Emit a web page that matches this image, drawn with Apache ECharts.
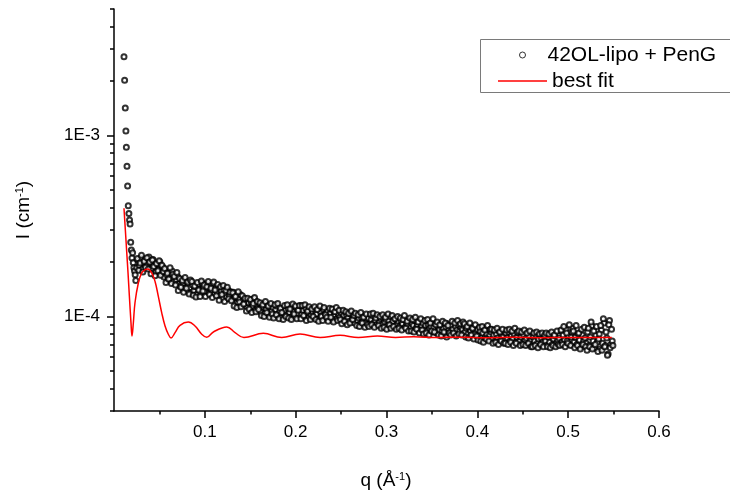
<!DOCTYPE html>
<html><head><meta charset="utf-8">
<script src="https://cdn.jsdelivr.net/npm/echarts@6/dist/echarts.min.js"></script>
<style>html,body{margin:0;padding:0;background:#fff}#c{width:730px;height:497px}</style>
</head><body><div id="c"></div>
<script>
const FONT = '"Liberation Sans", Arial, Helvetica, sans-serif';

// intensities in units of 1e-5 cm^-1
const seriesNames = ['42OL-lipo + PenG', 'best fit'];
// steep low-q data points
const qLow = [0.0110,0.0117,0.0124,0.0131,0.0136,0.0143,0.0150,0.0157,0.0164,0.0171,0.0177,0.0184,0.0191,0.0198,0.0205,0.0212,0.0219,0.0226,0.0233,0.0240];
const iLow = [272,202,142,106,86,67.6,52.6,40.9,37.1,34.1,32.4,25.7,23.3,21.0,22.5,19.8,18.6,17.8,17.0,15.8];
// measured points on the regular q grid (start 0.025, step 0.0015)
const qStart = 0.025, qStep = 0.0015;
const iMain = [
18.6,20.4,19.1,21.0,18.2,19.8,20.7,18.9,19.5,21.3,
19.9,18.4,20.6,19.0,17.6,19.4,18.1,20.0,17.4,18.8,
16.5,18.1,17.0,15.9,17.6,16.2,17.8,15.6,16.8,16.0,
16.6,15.1,14.7,16.0,15.3,14.2,15.7,13.8,14.9,14.4,
13.5,14.9,13.9,14.6,13.2,15.0,14.1,13.6,15.3,14.4,
13.7,15.1,14.5,13.4,14.8,13.9,15.2,13.3,14.2,13.6,
14.3,13.0,13.8,12.6,14.1,13.4,12.8,14.0,13.1,13.7,
12.4,13.6,12.7,13.1,11.9,12.5,13.2,11.6,12.2,11.8,
12.3,11.2,11.9,10.9,12.0,11.4,12.5,10.8,11.6,11.1,
11.8,10.6,11.3,11.7,10.4,11.0,11.5,10.2,11.2,10.7,
11.2,10.1,10.9,11.4,10.3,10.7,9.9,11.0,10.4,10.8,
10.2,11.1,10.5,9.9,11.3,10.6,10.0,11.2,10.4,10.9,
11.4,10.3,10.8,10.0,11.1,10.5,9.8,10.9,10.2,10.6,
9.9,10.8,10.3,11.0,9.7,10.5,10.1,10.9,9.8,10.4,
10.7,9.8,10.4,10.9,9.6,10.2,10.6,9.7,10.3,9.9,
10.5,9.6,10.1,9.3,10.2,9.8,9.4,10.3,9.5,9.9,
9.2,10.1,9.5,9.8,9.1,9.9,9.4,10.0,9.3,9.7,
9.8,9.1,9.6,10.1,9.2,9.5,9.0,9.9,9.3,9.7,
9.0,9.8,9.3,9.6,8.9,9.5,10.0,9.1,9.4,8.8,
9.7,9.0,9.4,8.8,9.5,9.1,9.6,8.7,9.2,9.0,
9.4,8.7,9.1,8.9,9.5,8.6,9.0,9.3,8.5,8.9,
9.2,8.5,8.9,8.3,9.0,8.6,8.8,8.2,8.7,9.1,
8.1,8.8,8.4,9.0,8.3,8.6,8.0,8.7,9.1,8.4,
8.2,8.9,8.5,8.0,8.8,8.4,9.0,8.3,8.7,8.5,
8.9,8.2,8.6,8.0,8.7,8.3,7.9,8.5,8.1,8.4,
8.5,7.8,8.3,7.6,8.1,8.6,7.7,8.0,7.5,7.9,
8.2,7.5,7.9,7.3,8.0,7.6,8.3,7.4,7.8,7.7,
7.4,8.1,7.6,8.2,7.3,7.8,7.5,8.0,7.2,7.7,
8.1,7.3,7.7,7.1,7.9,7.4,7.6,7.0,7.8,7.3,
7.0,7.7,7.3,7.9,7.1,7.5,6.9,7.6,7.2,7.8,
7.3,6.9,7.7,7.2,7.9,7.0,7.5,7.8,7.1,7.4,
7.6,8.3,7.2,7.9,7.4,8.5,7.3,7.8,7.0,7.7,
8.6,7.2,7.7,7.0,8.0,7.4,6.8,7.9,7.3,7.6,
7.1,8.2,6.9,7.7,8.9,7.3,6.7,7.9,7.2,7.5,
6.6,8.4,7.1,9.2,6.9,7.6,6.2,9.5,7.0,7.3
];
// interleaved points, half a step later (start 0.02575, step 0.0015)
const qStart2 = 0.02575;
const iMain2 = [
20.9,18.0,19.7,21.8,17.6,20.2,18.7,21.1,18.3,20.0,
17.2,20.5,18.9,16.8,19.6,17.9,20.3,16.9,19.2,17.7,
18.4,15.4,17.3,16.1,18.6,15.2,17.1,16.6,14.9,17.5,
13.9,16.2,14.5,15.8,13.6,16.4,14.3,15.5,13.3,15.9,
15.6,13.1,14.7,12.8,15.4,14.0,12.9,15.7,13.8,14.9,
12.9,14.6,15.6,13.2,14.3,12.7,15.5,14.0,13.0,15.0,
12.3,14.6,13.2,14.8,12.1,13.9,14.5,12.5,13.6,12.2,
13.5,11.4,12.9,11.2,13.7,12.0,11.3,13.0,11.7,12.6,
10.7,12.6,11.0,12.4,10.5,11.8,12.7,10.6,12.1,10.9,
11.9,10.1,11.6,10.0,12.1,10.5,11.4,9.9,11.8,10.3,
9.8,11.6,10.2,11.8,9.7,11.1,10.5,9.6,11.5,10.0,
11.6,9.8,11.0,9.6,11.7,10.3,11.4,9.7,10.8,11.5,
9.7,11.5,10.1,11.6,9.5,10.7,11.3,9.6,11.0,10.0,
11.3,9.6,10.9,9.4,11.4,10.0,9.5,11.2,10.2,9.9,
9.4,11.1,9.9,11.0,9.3,10.6,11.2,9.5,10.8,9.6,
9.1,10.8,9.4,10.6,9.0,10.4,9.2,10.7,9.6,10.1,
10.4,8.9,10.2,8.8,10.5,9.2,9.9,8.7,10.3,9.0,
8.8,10.3,9.0,10.4,8.7,9.8,10.2,8.9,10.0,8.6,
10.2,8.7,9.9,8.5,10.3,9.0,8.6,10.1,8.8,9.7,
8.5,10.0,8.6,9.8,8.4,9.6,10.1,8.6,9.4,8.3,
9.8,8.3,9.6,8.2,9.9,8.5,9.3,8.1,9.7,8.4,
8.0,9.5,8.1,9.6,7.9,9.2,8.3,9.7,8.2,9.0,
9.3,7.9,9.0,7.8,9.4,8.2,9.2,7.7,8.9,8.1,
7.9,9.4,8.1,9.2,7.8,9.5,8.0,9.1,7.9,9.3,
9.1,7.7,8.8,7.6,9.2,7.9,8.6,7.5,9.0,7.8,
7.4,8.7,7.3,8.8,7.2,8.4,7.5,8.9,7.3,8.5,
8.5,7.1,8.4,7.2,8.6,7.0,8.2,7.3,8.5,7.1,
7.1,8.4,7.0,8.5,7.2,8.3,6.9,8.6,7.1,8.2,
8.3,6.9,8.2,7.0,8.4,6.9,8.1,7.1,8.3,6.8,
6.8,8.1,6.9,8.2,6.7,8.0,7.0,8.1,6.8,7.9,
8.1,6.8,8.0,6.7,8.2,6.9,7.9,6.8,8.3,7.0,
6.9,8.4,7.0,8.8,6.8,8.1,7.1,9.0,6.9,8.2,
8.3,6.7,8.9,6.9,8.1,6.6,8.5,7.0,8.7,6.8,
6.5,8.6,6.8,9.3,6.6,8.3,7.0,8.8,6.4,8.0,
8.9,6.5,9.7,6.8,8.2,6.1,9.0,6.7,8.5,6.9
];
// best fit curve
const qFit = [0.0110,0.0125,0.0140,0.0155,0.0169,0.0187,0.0198,0.0213,0.0231,0.0268,0.0305,0.0341,0.0371,0.0415,0.0452,0.0488,0.0525,0.0562,0.0598,0.0628,0.0672,0.0727,0.0818,0.0892,0.0966,0.1021,0.1094,0.1241,0.1333,0.1430,0.1644,0.1847,0.2048,0.2269,0.2489,0.2690,0.2900,0.3100,0.3300,0.3550,0.3800,0.4100,0.4400,0.4700,0.5000,0.5250,0.5480];
const iFit = [39.6,30.0,22.7,17.2,13.0,9.23,7.8,9.2,11.9,15.3,17.4,18.1,18.3,17.4,15.6,12.9,10.5,8.85,7.97,7.6,8.13,8.92,9.3,8.85,7.97,7.66,8.2,8.75,8.13,7.64,8.06,7.64,7.99,7.64,7.86,7.64,7.78,7.65,7.72,7.64,7.68,7.63,7.66,7.63,7.65,7.64,7.64];

const xMajor = [0.1,0.2,0.3,0.4,0.5,0.6];
const xMinor = [0.05,0.15,0.25,0.35,0.45,0.55];
const yMajor = [1e-4,1e-3];
const yMinor = [3e-5,4e-5,5e-5,6e-5,7e-5,8e-5,9e-5,2e-4,3e-4,4e-4,5e-4,6e-4,7e-4,8e-4,9e-4,2e-3,3e-3,4e-3,5e-3];

const U = 1e-5;
const scatterData = qLow.map((q,i)=>[q, iLow[i]*U])
  .concat(iMain.map((v,i)=>[+(qStart+i*qStep).toFixed(5), v*U]))
  .concat(iMain2.map((v,i)=>[+(qStart2+i*qStep).toFixed(5), v*U]));
const fitData = qFit.map((q,i)=>[q, iFit[i]*U]);

const chart = echarts.init(document.getElementById('c'), null, {renderer:'canvas'});
const axisCol = '#000';
const labelStyle = {fontFamily: FONT, fontSize: 17, color: '#000'};
chart.setOption({
  animation: false,
  backgroundColor: '#fff',
  grid: {left: 114, right: 71, top: 9, bottom: 86, containLabel: false},
  xAxis: [{
    type: 'value', min: 0, max: 0.6, interval: 0.1,
    axisLine: {show: true, onZero: false, lineStyle: {color: axisCol, width: 1.5}},
    axisTick: {show: true, length: 7, customValues: xMajor, lineStyle: {color: axisCol, width: 1.5}},
    axisLabel: Object.assign({customValues: xMajor, margin: 13, formatter: v => v.toFixed(1)}, labelStyle),
    splitLine: {show: false}
  },{
    type: 'value', min: 0, max: 0.6, position: 'bottom',
    axisLine: {show: false, onZero: false},
    axisTick: {show: true, length: 3.5, customValues: xMinor, lineStyle: {color: axisCol, width: 1.5}},
    axisLabel: {show: false},
    splitLine: {show: false}
  }],
  yAxis: [{
    type: 'log', logBase: 10, min: 3e-5, max: 5e-3,
    axisLine: {show: true, onZero: false, lineStyle: {color: axisCol, width: 1.5}},
    axisTick: {show: true, length: 7, customValues: yMajor, lineStyle: {color: axisCol, width: 1.5}},
    axisLabel: Object.assign({customValues: yMajor, margin: 14, formatter: v => '1E' + Math.round(Math.log10(v))}, labelStyle),
    splitLine: {show: false}
  },{
    type: 'log', logBase: 10, min: 3e-5, max: 5e-3, position: 'left',
    axisLine: {show: false, onZero: false},
    axisTick: {show: true, length: 4, customValues: yMinor, lineStyle: {color: axisCol, width: 1.5}},
    axisLabel: {show: false},
    splitLine: {show: false}
  }],
  legend: [{
    data: [{name: seriesNames[0], icon: 'circle', itemStyle: {color: '#fff', borderColor: '#000', borderWidth: 1}}],
    left: 519, top: 44, padding: 0, itemWidth: 6, itemHeight: 6, selectedMode: false,
    textStyle: {fontFamily: FONT, fontSize: 21, color: '#000', lineHeight: 22, padding: [0,0,0,17]}
  },{
    data: [{name: seriesNames[1], icon: 'rect', itemStyle: {color: '#ff0000'}}],
    left: 498, top: 70, padding: 0, itemWidth: 49, itemHeight: 1.6, selectedMode: false,
    textStyle: {fontFamily: FONT, fontSize: 21, color: '#000', lineHeight: 22}
  }],
  graphic: [
    {type: 'rect', shape: {x: 480.5, y: 39.5, width: 260, height: 53}, style: {fill: 'transparent', stroke: '#7a7a7a', lineWidth: 1}, silent: true},
    {type: 'text', x: 386, y: 481, silent: true, style: {
      text: '{a|q (Å}{s|-1}{a|)}', align: 'center', verticalAlign: 'middle',
      rich: {a: {fontFamily: FONT, fontSize: 19, fill: '#000'}, s: {fontFamily: FONT, fontSize: 11, fill: '#000', padding: [0,0,9,0]}}
    }},
    {type: 'text', x: 24, y: 210, rotation: Math.PI/2, silent: true, style: {
      text: '{a|I (cm}{s|-1}{a|)}', align: 'center', verticalAlign: 'middle',
      rich: {a: {fontFamily: FONT, fontSize: 19, fill: '#000'}, s: {fontFamily: FONT, fontSize: 11, fill: '#000', padding: [0,0,9,0]}}
    }}
  ],
  series: [{
    name: seriesNames[0], type: 'scatter', xAxisIndex: 0, yAxisIndex: 0,
    data: scatterData, symbol: 'emptyCircle', symbolSize: 5,
    itemStyle: {color: '#000', borderColor: '#000', borderWidth: 0.9},
    emphasis: {disabled: true}, large: false
  },{
    name: seriesNames[1], type: 'line', xAxisIndex: 0, yAxisIndex: 0,
    data: fitData, showSymbol: false, symbol: 'none', smooth: 0.4,
    lineStyle: {color: '#ff0000', width: 1.5}, itemStyle: {color: '#ff0000'},
    emphasis: {disabled: true}, z: 3
  }]
});
</script>
</body></html>
